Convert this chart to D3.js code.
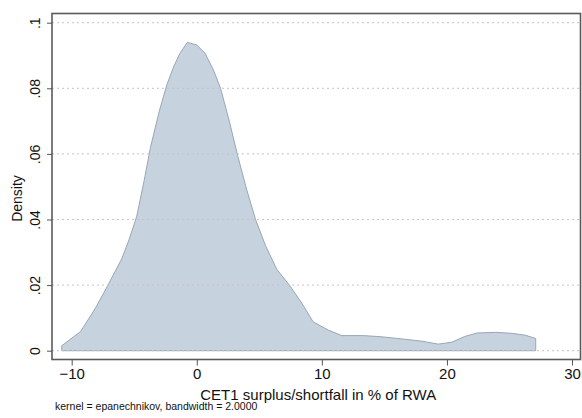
<!DOCTYPE html>
<html>
<head>
<meta charset="utf-8">
<script src="https://cdn.jsdelivr.net/npm/d3@7"></script>
<style>
  body { margin: 0; background: #fff; }
  text { font-family: "Liberation Sans", Arial, sans-serif; fill: #111; }
</style>
</head>
<body>
<div id="chart"></div>
<script>
// kernel density estimate
const xs = [-10.8, -9.3, -8.1, -7.1, -6.0, -5.4, -4.8, -4.2, -3.7, -3.0, -2.4, -1.8, -1.3, -0.75, 0.0, 0.66, 1.33, 1.9,
            2.6, 3.3, 4.0, 4.7, 5.5, 6.4, 7.4, 8.4, 9.3, 10.5, 11.6, 13.3, 14.6, 16.4, 18.0,
            19.3, 20.4, 21.4, 22.4, 23.9, 25.2, 26.3, 27.1];
const dens = [0.0015, 0.0058, 0.013, 0.020, 0.028, 0.034, 0.041, 0.052, 0.062, 0.073, 0.081, 0.087, 0.091, 0.094, 0.0932, 0.0907, 0.0856, 0.080,
              0.070, 0.059, 0.049, 0.040, 0.032, 0.0248, 0.020, 0.0145, 0.0088, 0.0063, 0.0046, 0.0046, 0.0043, 0.0036, 0.0029,
              0.0020, 0.0026, 0.0043, 0.0054, 0.0056, 0.0053, 0.0047, 0.0037];
const xTicks = [-10, 0, 10, 20, 30];
const yTicks = [0, 0.02, 0.04, 0.06, 0.08, 0.1];
const yTickLabels = ["0", ".02", ".04", ".06", ".08", ".1"];

const W = 582, H = 418;
const frame = {left: 52, top: 13.5, right: 580.5, bottom: 359.5};

const svg = d3.select("#chart").append("svg")
    .attr("width", W).attr("height", H);

const x = d3.scaleLinear().domain([-10, 30]).range([71.7, 572]);
const y = d3.scaleLinear().domain([0, 0.1]).range([350.7, 22.7]);

const pts = xs.map((v, i) => [v, dens[i]]);

// area under curve, closed down to zero at both ends
const area = d3.area()
    .x(d => x(d[0]))
    .y0(y(0))
    .y1(d => y(d[1]));

svg.append("path")
    .datum(pts)
    .attr("d", area)
    .attr("fill", "#c6d3df")
    .attr("stroke", "#98a7b5")
    .attr("stroke-width", 1);

// dotted gridlines
svg.append("g").selectAll("line")
    .data(yTicks)
    .enter().append("line")
    .attr("x1", frame.left).attr("x2", frame.right)
    .attr("y1", d => y(d)).attr("y2", d => y(d))
    .attr("stroke", "#c4c4c4")
    .attr("stroke-width", 1)
    .attr("stroke-dasharray", "2,3");

// plot frame
svg.append("rect")
    .attr("x", frame.left).attr("y", frame.top)
    .attr("width", frame.right - frame.left)
    .attr("height", frame.bottom - frame.top)
    .attr("fill", "none")
    .attr("stroke", "#5a5a5a")
    .attr("stroke-width", 1.6);

// y axis
const yAxis = d3.axisLeft(y)
    .tickValues(yTicks)
    .tickSize(5)
    .tickFormat((d, i) => yTickLabels[i]);

const gy = svg.append("g")
    .attr("transform", `translate(${frame.left},0)`)
    .call(yAxis);
gy.select(".domain").remove();
gy.selectAll(".tick line").attr("stroke", "#555");
gy.selectAll(".tick text")
    .attr("x", 0)
    .attr("text-anchor", "middle")
    .attr("transform", "translate(-11,0) rotate(-90)")
    .attr("dy", "-0.05em")
    .style("font-size", "14px")
    .style("font-family", "Liberation Sans, Arial, sans-serif")
    .attr("fill", "#111");

// x axis
const xAxis = d3.axisBottom(x)
    .tickValues(xTicks)
    .tickSize(6)
    .tickFormat(d3.format("d"));

const gx = svg.append("g")
    .attr("transform", `translate(0,${frame.bottom})`)
    .call(xAxis);
gx.select(".domain").remove();
gx.selectAll(".tick line").attr("stroke", "#555");
gx.selectAll(".tick text")
    .attr("y", 9)
    .style("font-size", "15px")
    .style("font-family", "Liberation Sans, Arial, sans-serif")
    .attr("fill", "#111");

// titles
svg.append("text")
    .attr("transform", `translate(22,${(frame.top + frame.bottom) / 2 + 12}) rotate(-90)`)
    .attr("text-anchor", "middle")
    .style("font-size", "14px")
    .text("Density");

svg.append("text")
    .attr("x", (frame.left + frame.right) / 2 + 2)
    .attr("y", 400)
    .attr("text-anchor", "middle")
    .style("font-size", "15px")
    .text("CET1 surplus/shortfall in % of RWA");

svg.append("text")
    .attr("x", 55)
    .attr("y", 410)
    .style("font-size", "10.5px")
    .text("kernel = epanechnikov, bandwidth = 2.0000");
</script>
</body>
</html>
